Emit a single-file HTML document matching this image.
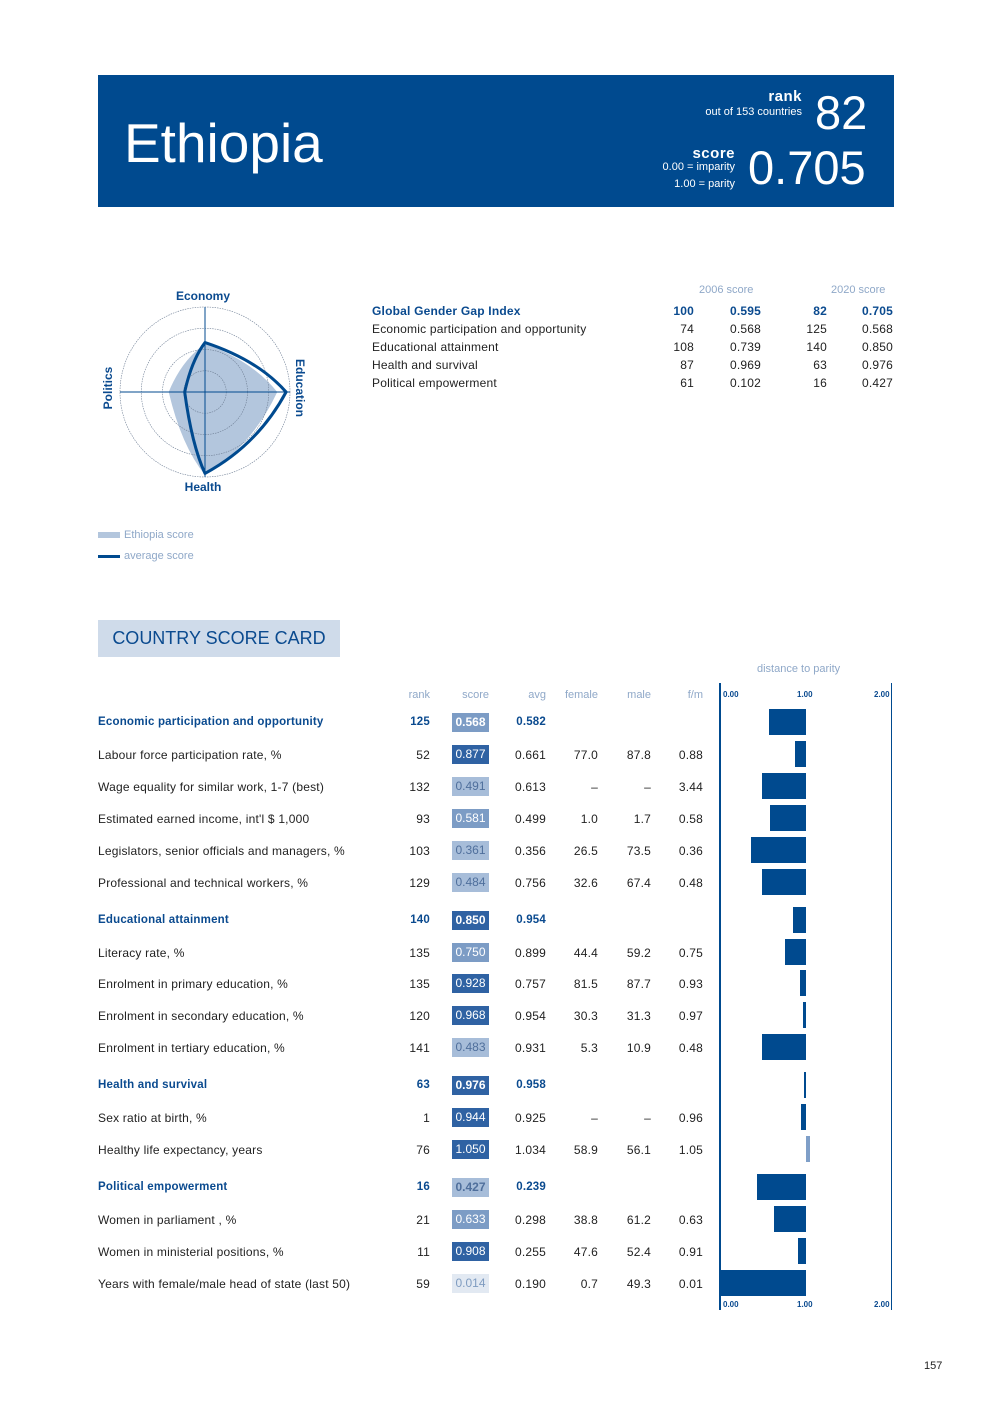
<!DOCTYPE html>
<html><head><meta charset="utf-8">
<style>
body{margin:0;width:992px;height:1403px;background:#fff;position:relative;font-family:"Liberation Sans",sans-serif;overflow:hidden}
.a{position:absolute;white-space:nowrap}
.r{text-align:right}
.t{font-size:12px;color:#222;letter-spacing:0.2px}
.hd{font-size:11px;color:#8fa8c8}
.bb{color:#0a4a8f;font-weight:bold}
</style></head>
<body>
<div class="a" style="left:98px;top:75px;width:796px;height:132px;background:#004a8f"></div>
<div class="a" style="left:124px;top:111px;font-size:55px;color:#fff">Ethiopia</div>
<div class="a r" style="right:190px;top:88px;font-size:15px;color:#fff;font-weight:bold;letter-spacing:0.5px">rank</div>
<div class="a r" style="right:190px;top:106px;font-size:11px;color:#fff">out of 153 countries</div>
<div class="a" style="left:815px;top:85px;font-size:47px;color:#fff">82</div>
<div class="a r" style="right:257px;top:145px;font-size:15px;color:#fff;font-weight:bold;letter-spacing:0.5px">score</div>
<div class="a r" style="right:257px;top:161px;font-size:11px;color:#fff">0.00 = imparity</div>
<div class="a r" style="right:257px;top:178px;font-size:11px;color:#fff">1.00 = parity</div>
<div class="a" style="left:748px;top:140px;font-size:47px;color:#fff">0.705</div>

<svg class="a" style="left:0;top:0" width="360" height="520" id="radar"></svg>
<div class="a" style="left:98px;top:529px;font-size:11px;color:#8fa8c8"><span style="display:inline-block;width:22px;height:6px;background:#b3c6dd;margin-right:4px;vertical-align:middle"></span>Ethiopia score</div>
<div class="a" style="left:98px;top:550px;font-size:11px;color:#8fa8c8"><span style="display:inline-block;width:22px;height:3px;background:#004a8f;margin-right:4px;vertical-align:middle"></span>average score</div>

<div id="top"></div>

<div class="a" style="left:98px;top:620px;width:242px;height:37px;background:#cfdbea;color:#0a4a8f;font-size:18px;line-height:37px;text-align:center">COUNTRY SCORE CARD</div>
<div class="a hd" style="left:757px;top:663px">distance to parity</div>
<div id="card"></div>
<div class="a" style="left:924px;top:1360px;font-size:11px;color:#222">157</div>

<script>
// radar data
const axes=['Economy','Education','Health','Politics'];
const ethiopia=[0.568,0.850,0.976,0.427];
const average=[0.582,0.954,0.958,0.239];
// summary
const sumNames=['Global Gender Gap Index','Economic participation and opportunity','Educational attainment','Health and survival','Political empowerment'];
const rank2006=[100,74,108,87,61];
const score2006=['0.595','0.568','0.739','0.969','0.102'];
const rank2020=[82,125,140,63,16];
const score2020=['0.705','0.568','0.850','0.976','0.427'];
// scorecard
const names=['Economic participation and opportunity','Labour force participation rate, %','Wage equality for similar work, 1-7 (best)','Estimated earned income, int\'l $ 1,000','Legislators, senior officials and managers, %','Professional and technical workers, %','Educational attainment','Literacy rate, %','Enrolment in primary education, %','Enrolment in secondary education, %','Enrolment in tertiary education, %','Health and survival','Sex ratio at birth, %','Healthy life expectancy, years','Political empowerment','Women in parliament , %','Women in ministerial positions, %','Years with female/male head of state (last 50)'];
const isHead=[1,0,0,0,0,0,1,0,0,0,0,1,0,0,1,0,0,0];
const ranks=[125,52,132,93,103,129,140,135,135,120,141,63,1,76,16,21,11,59];
const scores=[0.568,0.877,0.491,0.581,0.361,0.484,0.850,0.750,0.928,0.968,0.483,0.976,0.944,1.050,0.427,0.633,0.908,0.014];
const avgs=['0.582','0.661','0.613','0.499','0.356','0.756','0.954','0.899','0.757','0.954','0.931','0.958','0.925','1.034','0.239','0.298','0.255','0.190'];
const female=['','77.0','–','1.0','26.5','32.6','','44.4','81.5','30.3','5.3','','–','58.9','','38.8','47.6','0.7'];
const male=['','87.8','–','1.7','73.5','67.4','','59.2','87.7','31.3','10.9','','–','56.1','','61.2','52.4','49.3'];
const fm=['','0.88','3.44','0.58','0.36','0.48','','0.75','0.93','0.97','0.48','','0.96','1.05','','0.63','0.91','0.01'];
const rowY=[722,754,786,818,850,882,920,952,983,1015,1047,1085,1117,1149,1187,1219,1251,1283];

// radar
const NS='http://www.w3.org/2000/svg';
const svg=document.getElementById('radar');
const cx=205,cy=392,R=85;
function pt(i,v){const a=[-Math.PI/2,0,Math.PI/2,Math.PI][i];return [cx+Math.cos(a)*v*R,cy+Math.sin(a)*v*R];}
function mk(tag,at){const e=document.createElementNS(NS,tag);for(const k in at)e.setAttribute(k,at[k]);svg.appendChild(e);return e;}
function smooth(vals){const p=vals.map((v,i)=>pt(i,v));let d='M'+p[0].join(',');for(let i=0;i<4;i++){const q=p[(i+1)%4];const mx=(p[i][0]+q[0])/2,my=(p[i][1]+q[1])/2;const c=[mx+(mx-cx)*0.3,my+(my-cy)*0.3];d+=' Q'+c.join(',')+' '+q.join(',');}return d+'Z';}
const sh=mk('path',{d:smooth(ethiopia),fill:'#b3c6dd'});


[0.25,0.5,0.75,1].forEach(f=>{const c=mk('circle',{cx:cx,cy:cy,r:f*R,fill:'none',stroke:'#6f7f95','stroke-width':0.6,'stroke-dasharray':'1.5,1'});

});
mk('line',{x1:cx,y1:cy-R,x2:cx,y2:cy+R,stroke:'#004a8f','stroke-width':1});
mk('line',{x1:cx-R,y1:cy,x2:cx+R,y2:cy,stroke:'#004a8f','stroke-width':1});
const av=mk('path',{d:smooth(average),fill:'none',stroke:'#004a8f','stroke-width':3,'stroke-linejoin':'round'});


const lab=[[203,300,0],[300,392,90],[203,491,0],[108,392,-90]];
axes.forEach((n,i)=>{const t=mk('text',{x:lab[i][0],y:lab[i][1],'text-anchor':'middle','font-size':12,'font-weight':'bold',fill:'#0a4a8f','font-family':'Liberation Sans, sans-serif',transform:'rotate('+lab[i][2]+' '+lab[i][0]+' '+(lab[i][1]-4)+')'});t.textContent=n;

});

function add(parent,html,style,cls,name){const d=document.createElement('div');d.className='a '+(cls||'');d.style.cssText=style;d.innerHTML=html;


document.body.appendChild(d);return d;}

// summary table
add(null,'2006 score','left:699px;top:284px','hd','header-2006');
add(null,'2020 score','left:831px;top:284px','hd','header-2020');
sumNames.forEach((n,i)=>{const y=304+i*18;const b=i==0?' bb':'';
add(null,n,'left:372px;top:'+y+'px','t'+b,'summary-name');
add(null,rank2006[i],'right:298px;top:'+y+'px','t r'+b,'summary-rank-2006');
add(null,score2006[i],'right:231px;top:'+y+'px','t r'+b,'summary-score-2006');
add(null,rank2020[i],'right:165px;top:'+y+'px','t r'+b,'summary-rank-2020');
add(null,score2020[i],'right:99px;top:'+y+'px','t r'+b,'summary-score-2020');});

// scorecard headers
[['rank',562],['score',503],['avg',446],['female',394],['male',341],['f/m',289]].forEach(h=>add(null,h[0],'right:'+h[1]+'px;top:689px','hd r','column-header'));
// bar axis
const X0=720,U=86;
function xs(v){return X0+v*U;}
add(null,'','left:'+(X0-1)+'px;top:683px;width:2px;height:627px;background:#004a8f','','bar-axis-left');
add(null,'','left:'+(xs(2)-1)+'px;top:683px;width:1px;height:627px;background:#004a8f','','bar-axis-right');
['0.00','1.00','2.00'].forEach((l,i)=>{const x=xs(i)+(i==0?3:i==2?-18:-9);
add(null,l,'left:'+x+'px;top:690px;font-size:8px;color:#0a4a8f;font-weight:bold','','bar-tick-top');
add(null,l,'left:'+x+'px;top:1300px;font-size:8px;color:#0a4a8f;font-weight:bold','','bar-tick-bottom');});

function cellColor(s){if(s>=0.85)return['#2f62a3','#fff'];if(s>=0.55)return['#7c9cc5','#fff'];if(s>=0.1)return['#a7bdd9','#4f6f9c'];return['#e2e9f2','#7f9cc0'];}
names.forEach((n,i)=>{const y=rowY[i]-6;const h=isHead[i];const b=h?' bb':'';
const fs=h?'font-size:11.5px;':'';
add(null,n,'left:98px;top:'+y+'px;'+fs,'t'+b,h?'section-title':'indicator-name');
add(null,ranks[i],'right:562px;top:'+y+'px;'+fs,'t r'+b,'rank-value');
const c=cellColor(scores[i]);
add(null,scores[i].toFixed(3),'left:452px;top:'+(rowY[i]-9)+'px;width:37px;height:19px;line-height:19px;text-align:center;font-size:12px;background:'+c[0]+';color:'+c[1]+(h?';font-weight:bold':''),'','score-cell');
add(null,avgs[i],'right:446px;top:'+y+'px;'+fs,'t r'+b,'avg-value');
add(null,female[i],'right:394px;top:'+y+'px','t r','female-value');
add(null,male[i],'right:341px;top:'+y+'px','t r','male-value');
add(null,fm[i],'right:289px;top:'+y+'px','t r','fm-value');
const v=Math.min(scores[i],2);const x1=Math.min(xs(v),xs(1)),x2=Math.max(xs(v),xs(1));
add(null,'','left:'+x1+'px;top:'+(rowY[i]-13)+'px;width:'+Math.max(x2-x1,1.5)+'px;height:26px;background:'+(scores[i]>1?'#7f9fc8':'#004a8f'),'','distance-bar');});
</script>
</body></html>
